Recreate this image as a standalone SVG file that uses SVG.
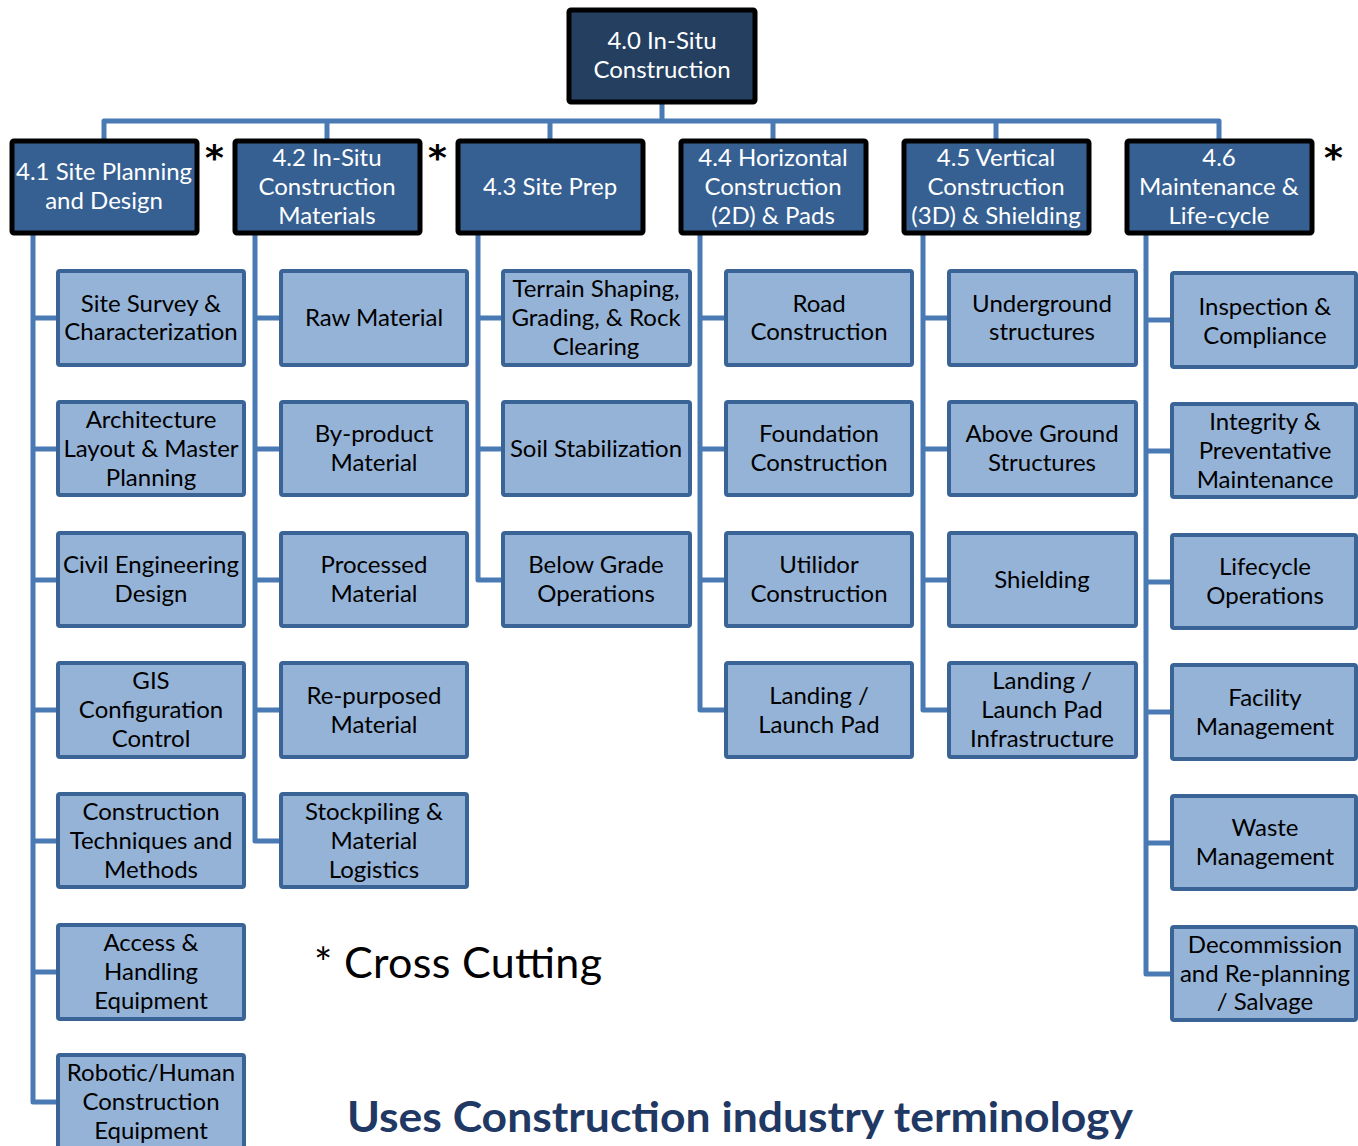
<svg xmlns="http://www.w3.org/2000/svg" width="1358" height="1146" viewBox="0 0 1358 1146">
<style>
.top{fill:#243F60;stroke:#000;stroke-width:5}
.l1{fill:#366092;stroke:#000;stroke-width:5}
.leaf{fill:#95B3D7;stroke:#3A6496;stroke-width:4}
.cn{fill:none;stroke:#4A7AB4;stroke-width:5;stroke-linejoin:round}
.tw{font-family:Lato,"Liberation Sans",sans-serif;font-size:24px;fill:#fff;text-anchor:middle}
.tb{font-family:Lato,"Liberation Sans",sans-serif;font-size:24px;fill:#000;text-anchor:middle}
.ast{font-family:"DejaVu Sans",sans-serif;font-size:36px;font-weight:bold;fill:#000}
</style>
<rect width="1358" height="1146" fill="#fff"/>
<g id="connectors">
<path class="cn" d="M662 103V121M104 140V121H1219V140M327 121V140M550 121V140M773 121V140M996 121V140"/>
<path class="cn" d="M33 234V1102H58M33 318H58M33 449H58M33 580H58M33 710H58M33 841H58M33 972H58"/>
<path class="cn" d="M255 234V841H281M255 318H281M255 449H281M255 580H281M255 710H281"/>
<path class="cn" d="M478 234V580H503M478 318H503M478 449H503"/>
<path class="cn" d="M700 234V710H726M700 318H726M700 449H726M700 580H726"/>
<path class="cn" d="M923 234V710H949M923 318H949M923 449H949M923 580H949"/>
<path class="cn" d="M1146 234V974H1172M1146 320H1172M1146 451H1172M1146 582H1172M1146 712H1172M1146 843H1172"/>
</g>
<g id="n40"><rect class="top" x="569" y="10" width="186" height="92" rx="2"/><text class="tw"><tspan x="662" y="49">4.0 In-Situ</tspan><tspan x="662" y="78">Construction</tspan></text></g>
<g id="n41"><rect class="l1" x="12" y="141" width="185" height="92" rx="2"/><text class="tw"><tspan x="104" y="180">4.1 Site Planning</tspan><tspan x="104" y="209">and Design</tspan></text></g>
<g id="n42"><rect class="l1" x="235" y="141" width="185" height="92" rx="2"/><text class="tw"><tspan x="327" y="166">4.2 In-Situ</tspan><tspan x="327" y="195">Construction</tspan><tspan x="327" y="224">Materials</tspan></text></g>
<g id="n43"><rect class="l1" x="458" y="141" width="185" height="92" rx="2"/><text class="tw"><tspan x="550" y="195">4.3 Site Prep</tspan></text></g>
<g id="n44"><rect class="l1" x="681" y="141" width="185" height="92" rx="2"/><text class="tw"><tspan x="773" y="166">4.4 Horizontal</tspan><tspan x="773" y="195">Construction</tspan><tspan x="773" y="224">(2D) &amp; Pads</tspan></text></g>
<g id="n45"><rect class="l1" x="904" y="141" width="185" height="92" rx="2"/><text class="tw"><tspan x="996" y="166">4.5 Vertical</tspan><tspan x="996" y="195">Construction</tspan><tspan x="996" y="224">(3D) &amp; Shielding</tspan></text></g>
<g id="n46"><rect class="l1" x="1127" y="141" width="185" height="92" rx="2"/><text class="tw"><tspan x="1219" y="166">4.6</tspan><tspan x="1219" y="195">Maintenance &amp;</tspan><tspan x="1219" y="224">Life-cycle</tspan></text></g>
<g id="asterisks"><text class="ast" x="205" y="170">*</text><text class="ast" x="428" y="170">*</text><text class="ast" x="1324" y="170">*</text></g>

<g id="c1a"><rect class="leaf" x="58" y="271" width="186" height="94" rx="2"/><text class="tb"><tspan x="151" y="312">Site Survey &amp;</tspan><tspan x="151" y="340">Characterization</tspan></text></g>
<g id="c1b"><rect class="leaf" x="58" y="402" width="186" height="93" rx="2"/><text class="tb"><tspan x="151" y="428">Architecture</tspan><tspan x="151" y="457">Layout &amp; Master</tspan><tspan x="151" y="486">Planning</tspan></text></g>
<g id="c1c"><rect class="leaf" x="58" y="533" width="186" height="93" rx="2"/><text class="tb"><tspan x="151" y="573">Civil Engineering</tspan><tspan x="151" y="602">Design</tspan></text></g>
<g id="c1d"><rect class="leaf" x="58" y="663" width="186" height="94" rx="2"/><text class="tb"><tspan x="151" y="689">GIS</tspan><tspan x="151" y="718">Configuration</tspan><tspan x="151" y="747">Control</tspan></text></g>
<g id="c1e"><rect class="leaf" x="58" y="794" width="186" height="93" rx="2"/><text class="tb"><tspan x="151" y="820">Construction</tspan><tspan x="151" y="849">Techniques and</tspan><tspan x="151" y="878">Methods</tspan></text></g>
<g id="c1f"><rect class="leaf" x="58" y="925" width="186" height="94" rx="2"/><text class="tb"><tspan x="151" y="951">Access &amp;</tspan><tspan x="151" y="980">Handling</tspan><tspan x="151" y="1009">Equipment</tspan></text></g>
<g id="c1g"><rect class="leaf" x="58" y="1055" width="186" height="100" rx="2"/><text class="tb"><tspan x="151" y="1081">Robotic/Human</tspan><tspan x="151" y="1110">Construction</tspan><tspan x="151" y="1139">Equipment</tspan></text></g>

<g id="c2a"><rect class="leaf" x="281" y="271" width="186" height="94" rx="2"/><text class="tb"><tspan x="374" y="326">Raw Material</tspan></text></g>
<g id="c2b"><rect class="leaf" x="281" y="402" width="186" height="93" rx="2"/><text class="tb"><tspan x="374" y="442">By-product</tspan><tspan x="374" y="471">Material</tspan></text></g>
<g id="c2c"><rect class="leaf" x="281" y="533" width="186" height="93" rx="2"/><text class="tb"><tspan x="374" y="573">Processed</tspan><tspan x="374" y="602">Material</tspan></text></g>
<g id="c2d"><rect class="leaf" x="281" y="663" width="186" height="94" rx="2"/><text class="tb"><tspan x="374" y="704">Re-purposed</tspan><tspan x="374" y="733">Material</tspan></text></g>
<g id="c2e"><rect class="leaf" x="281" y="794" width="186" height="93" rx="2"/><text class="tb"><tspan x="374" y="820">Stockpiling &amp;</tspan><tspan x="374" y="849">Material</tspan><tspan x="374" y="878">Logistics</tspan></text></g>

<g id="c3a"><rect class="leaf" x="503" y="271" width="187" height="94" rx="2"/><text class="tb"><tspan x="596" y="297">Terrain Shaping,</tspan><tspan x="596" y="326">Grading, &amp; Rock</tspan><tspan x="596" y="355">Clearing</tspan></text></g>
<g id="c3b"><rect class="leaf" x="503" y="402" width="187" height="93" rx="2"/><text class="tb"><tspan x="596" y="457">Soil Stabilization</tspan></text></g>
<g id="c3c"><rect class="leaf" x="503" y="533" width="187" height="93" rx="2"/><text class="tb"><tspan x="596" y="573">Below Grade</tspan><tspan x="596" y="602">Operations</tspan></text></g>

<g id="c4a"><rect class="leaf" x="726" y="271" width="186" height="94" rx="2"/><text class="tb"><tspan x="819" y="312">Road</tspan><tspan x="819" y="340">Construction</tspan></text></g>
<g id="c4b"><rect class="leaf" x="726" y="402" width="186" height="93" rx="2"/><text class="tb"><tspan x="819" y="442">Foundation</tspan><tspan x="819" y="471">Construction</tspan></text></g>
<g id="c4c"><rect class="leaf" x="726" y="533" width="186" height="93" rx="2"/><text class="tb"><tspan x="819" y="573">Utilidor</tspan><tspan x="819" y="602">Construction</tspan></text></g>
<g id="c4d"><rect class="leaf" x="726" y="663" width="186" height="94" rx="2"/><text class="tb"><tspan x="819" y="704">Landing /</tspan><tspan x="819" y="733">Launch Pad</tspan></text></g>

<g id="c5a"><rect class="leaf" x="949" y="271" width="187" height="94" rx="2"/><text class="tb"><tspan x="1042" y="312">Underground</tspan><tspan x="1042" y="340">structures</tspan></text></g>
<g id="c5b"><rect class="leaf" x="949" y="402" width="187" height="93" rx="2"/><text class="tb"><tspan x="1042" y="442">Above Ground</tspan><tspan x="1042" y="471">Structures</tspan></text></g>
<g id="c5c"><rect class="leaf" x="949" y="533" width="187" height="93" rx="2"/><text class="tb"><tspan x="1042" y="588">Shielding</tspan></text></g>
<g id="c5d"><rect class="leaf" x="949" y="663" width="187" height="94" rx="2"/><text class="tb"><tspan x="1042" y="689">Landing /</tspan><tspan x="1042" y="718">Launch Pad</tspan><tspan x="1042" y="747">Infrastructure</tspan></text></g>

<g id="c6a"><rect class="leaf" x="1172" y="273" width="184" height="94" rx="2"/><text class="tb"><tspan x="1265" y="315">Inspection &amp;</tspan><tspan x="1265" y="344">Compliance</tspan></text></g>
<g id="c6b"><rect class="leaf" x="1172" y="404" width="184" height="93" rx="2"/><text class="tb"><tspan x="1265" y="430">Integrity &amp;</tspan><tspan x="1265" y="459">Preventative</tspan><tspan x="1265" y="488">Maintenance</tspan></text></g>
<g id="c6c"><rect class="leaf" x="1172" y="535" width="184" height="93" rx="2"/><text class="tb"><tspan x="1265" y="575">Lifecycle</tspan><tspan x="1265" y="604">Operations</tspan></text></g>
<g id="c6d"><rect class="leaf" x="1172" y="665" width="184" height="94" rx="2"/><text class="tb"><tspan x="1265" y="706">Facility</tspan><tspan x="1265" y="735">Management</tspan></text></g>
<g id="c6e"><rect class="leaf" x="1172" y="796" width="184" height="93" rx="2"/><text class="tb"><tspan x="1265" y="836">Waste</tspan><tspan x="1265" y="865">Management</tspan></text></g>
<g id="c6f"><rect class="leaf" x="1172" y="927" width="184" height="93" rx="2"/><text class="tb"><tspan x="1265" y="953">Decommission</tspan><tspan x="1265" y="982">and Re-planning</tspan><tspan x="1265" y="1010">/ Salvage</tspan></text></g>

<text x="314" y="978" font-family="Lato,'Liberation Sans',sans-serif" font-size="43" fill="#000" textLength="288" lengthAdjust="spacing">* Cross Cutting</text>
<text x="347" y="1132" font-family="Lato,'Liberation Sans',sans-serif" font-size="42" font-weight="bold" fill="#1F3864" textLength="786" lengthAdjust="spacingAndGlyphs">Uses Construction industry terminology</text>
</svg>
